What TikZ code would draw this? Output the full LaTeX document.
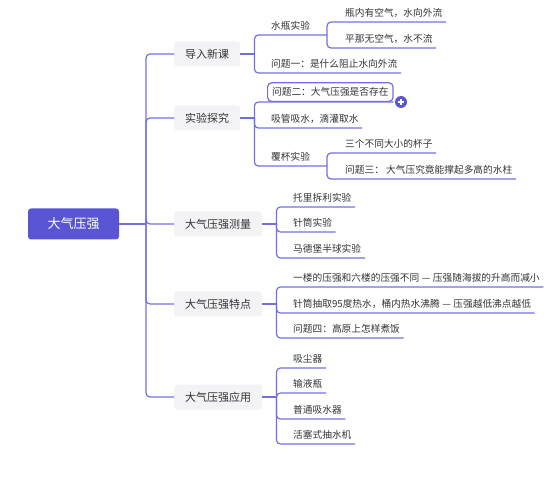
\documentclass[tikz,border=0pt]{standalone}
\usepackage{fontspec}
\setmainfont{Noto Sans CJK SC}
\definecolor{lc}{HTML}{7370DE}
\definecolor{rootc}{HTML}{5A55D4}
\definecolor{boxc}{HTML}{F3F3F5}
\definecolor{txt}{HTML}{333333}
\newcommand{\mydash}{\hspace{2.5pt}—\hspace{2.5pt}}
\tikzset{
  conn/.style={draw=lc, line width=1.2pt, rounded corners=4pt},
  rootbox/.style={fill=rootc, rounded corners=3pt, text=white,
    font=\fontsize{13}{15}\selectfont, minimum width=91pt, minimum height=31pt, inner sep=0pt},
  topic/.style={fill=boxc, rounded corners=3pt, text=txt,
    font=\fontsize{11}{13}\selectfont, minimum height=25pt, inner xsep=11pt, inner ysep=0pt, anchor=west},
  leaf/.style={text=txt, font=\fontsize{9.7}{11}\selectfont, anchor=south west,
    inner xsep=0pt, inner ysep=5.3pt, text height=7pt, text depth=0pt},
  selbox/.style={draw=lc, line width=1.2pt, rounded corners=4pt, text=txt,
    font=\fontsize{9.7}{11}\selectfont, anchor=south west,
    inner xsep=4.5pt, inner ysep=5.8pt, text height=7pt, text depth=0pt},
}
\begin{document}
\begin{tikzpicture}[x=1pt,y=-1pt]
\useasboundingbox (0,0) rectangle (552,489);
% root and topics
\node[rootbox] (root) at (73.5,224) {大气压强};
\coordinate (T) at (146,224);
\node[topic] (t1) at (174,54) {导入新课};
\node[topic] (t2) at (174,118) {实验探究};
\node[topic] (t3) at (174,224) {大气压强测量};
\node[topic] (t4) at (174,304) {大气压强特点};
\node[topic] (t5) at (174,397) {大气压强应用};
\draw[conn] (root.east) -- (T);
\foreach \t in {t1,t2,t3,t4,t5} \draw[conn] (T) |- (\t.west);
% junctions
\coordinate (J1) at ([xshift=14pt]t1.east);
\coordinate (J2) at ([xshift=14pt]t2.east);
\coordinate (J3) at ([xshift=14pt]t3.east);
\coordinate (J4) at ([xshift=14pt]t4.east);
\coordinate (J5) at ([xshift=14pt]t5.east);
\draw[conn] (t1.east) -- (J1);
\draw[conn] (t2.east) -- (J2);
\draw[conn] (t3.east) -- (J3);
\draw[conn] (t4.east) -- (J4);
\draw[conn] (t5.east) -- (J5);
% 导入新课
\node[leaf] (a1) at (271,35) {水瓶实验};
\coordinate (J11) at (327,35);
\draw[conn] (J1) |- (J11);
\node[leaf] (a11) at (345,22) {瓶内有空气，水向外流};
\node[leaf] (a12) at (345,48) {平那无空气，水不流};
\draw[conn] (J11) |- ([xshift=3.5pt]a11.south east);
\draw[conn] (J11) |- ([xshift=3.5pt]a12.south east);
\node[leaf] (a2) at (271,73) {问题一：是什么阻止水向外流};
\draw[conn] (J1) |- ([xshift=3.5pt]a2.south east);
% 实验探究
\node[selbox] (b1) at (267,102) {问题二：大气压强是否存在};
\draw[conn] (J2) |- (b1.south east);
\node[circle, fill=rootc, minimum size=12pt, inner sep=0pt] (plus) at (401,102) {};
\draw[white, line width=1.3pt] ([xshift=-3.2pt]plus.center) -- ([xshift=3.2pt]plus.center);
\draw[white, line width=1.3pt] ([yshift=-3.2pt]plus.center) -- ([yshift=3.2pt]plus.center);
\node[leaf] (b2) at (271,128) {吸管吸水，滴灌取水};
\draw[conn] (J2) |- ([xshift=3.5pt]b2.south east);
\node[leaf] (b3) at (271,166) {覆杯实验};
\coordinate (J21) at (327,166);
\draw[conn] (J2) |- (J21);
\node[leaf] (b31) at (345,153) {三个不同大小的杯子};
\node[leaf] (b32) at (345,179) {问题三： 大气压究竟能撑起多高的水柱};
\draw[conn] (J21) |- ([xshift=3.5pt]b31.south east);
\draw[conn] (J21) |- ([xshift=3.5pt]b32.south east);
% 大气压强测量
\node[leaf] (c1) at (293,207) {托里拆利实验};
\node[leaf] (c2) at (293,232) {针筒实验};
\node[leaf] (c3) at (293,258) {马德堡半球实验};
\foreach \n in {c1,c2,c3} \draw[conn] (J3) |- ([xshift=3.5pt]\n.south east);
% 大气压强特点
\node[leaf] (d1) at (293,287) {一楼的压强和六楼的压强不同\mydash 压强随海拔的升高而减小};
\node[leaf] (d2) at (293,313) {针筒抽取95度热水，桶内热水沸腾\mydash 压强越低沸点越低};
\node[leaf] (d3) at (293,338) {问题四：高原上怎样煮饭};
\foreach \n in {d1,d2,d3} \draw[conn] (J4) |- ([xshift=3.5pt]\n.south east);
% 大气压强应用
\node[leaf] (e1) at (293,368) {吸尘器};
\node[leaf] (e2) at (293,393) {输液瓶};
\node[leaf] (e3) at (293,419) {普通吸水器};
\node[leaf] (e4) at (293,444) {活塞式抽水机};
\foreach \n in {e1,e2,e3,e4} \draw[conn] (J5) |- ([xshift=3.5pt]\n.south east);
\end{tikzpicture}
\end{document}
